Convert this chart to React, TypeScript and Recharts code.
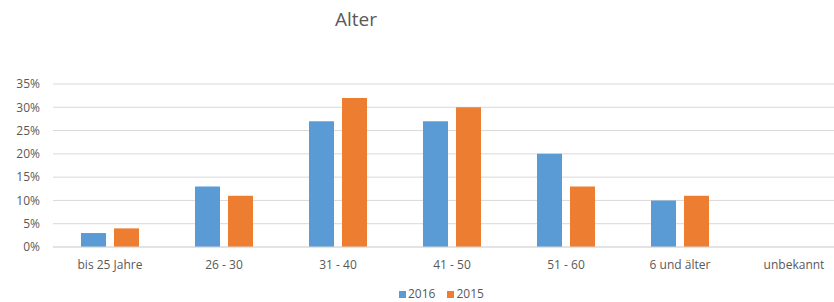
import React from 'react';
import { BarChart, Bar, XAxis, YAxis, CartesianGrid } from 'recharts';

const categories = ['bis 25 Jahre', '26 - 30', '31 - 40', '41 - 50', '51 - 60', '6 und älter', 'unbekannt'];
const values2016 = [3, 13, 27, 27, 20, 10, 0];
const values2015 = [4, 11, 32, 30, 13, 11, 0];
const yTicks = [0, 5, 10, 15, 20, 25, 30, 35];
const series = [
  { key: 'y2016', name: '2016', color: '#5B9BD5' },
  { key: 'y2015', name: '2015', color: '#ED7D31' },
];

const data = categories.map((name, i) => ({ name, y2016: values2016[i], y2015: values2015[i] }));

const FONT = '"Open Sans", sans-serif';
const TEXT = '#595959';

const App: React.FC = () => {
  return (
    <div style={{ position: 'absolute', left: 0, top: 0, width: 834, height: 302, overflow: 'hidden', background: '#fff', fontFamily: FONT }}>
      <div style={{ position: 'absolute', left: 335, top: 6, fontSize: 19, color: TEXT }}>Alter</div>
      <BarChart
        width={851}
        height={302}
        data={data}
        margin={{ top: 84, right: 0, bottom: 25, left: 0 }}
        barGap={8}
        barSize={25}
      >
        <CartesianGrid vertical={false} stroke="#d9d9d9" />
        <XAxis
          dataKey="name"
          height={30}
          tickLine={false}
          axisLine={{ stroke: '#d9d9d9' }}
          tickSize={0}
          tickMargin={13}
          interval={0}
          tick={{ fill: TEXT, fontSize: 12, fontFamily: FONT }}
        />
        <YAxis
          width={53}
          domain={[0, 35]}
          ticks={yTicks}
          interval={0}
          tickFormatter={(v: number) => `${v}%`}
          tickLine={false}
          axisLine={false}
          tickSize={0}
          tickMargin={13}
          tick={{ fill: TEXT, fontSize: 12, fontFamily: FONT }}
        />
        {series.map((s) => (
          <Bar key={s.key} dataKey={s.key} name={s.name} fill={s.color} isAnimationActive={false} />
        ))}
      </BarChart>
      <div style={{ position: 'absolute', left: 399, top: 286, display: 'flex', fontSize: 12, color: TEXT, lineHeight: '16px' }}>
        {series.map((s) => (
          <div key={s.key} style={{ display: 'flex', alignItems: 'center', marginRight: 12 }}>
            <span style={{ display: 'inline-block', width: 7, height: 7, background: s.color, marginRight: 2 }} />
            {s.name}
          </div>
        ))}
      </div>
    </div>
  );
};

export default App;
